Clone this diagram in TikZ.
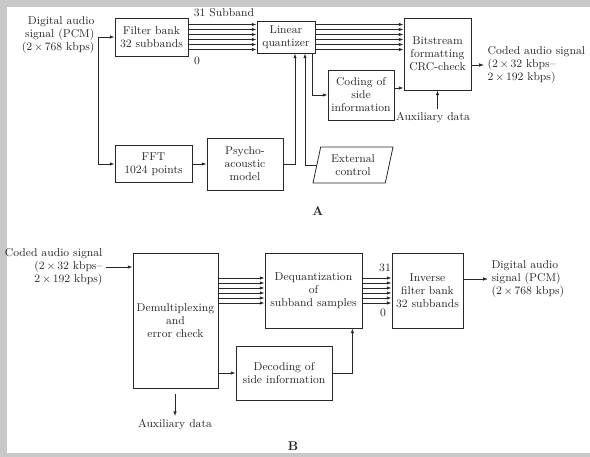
\documentclass[tikz,border=0pt]{standalone}
\usepackage{tikz}
\usetikzlibrary{arrows.meta,positioning,shapes.geometric,calc}
\definecolor{inkgray}{RGB}{40,40,40}
\definecolor{framegray}{RGB}{200,200,200}
\tikzset{
 codecbox/.style={
 rectangle,
 draw=inkgray,
 line width=0.6pt,
 align=center,
 inner sep=1pt,
 text=inkgray,
 font=\fontsize{8.5}{9.75}\selectfont
 },
 sigtext/.style={
 text=inkgray,
 inner sep=2.5pt,
 font=\fontsize{8.5}{9.75}\selectfont
 },
 panellabel/.style={
 text=inkgray,
 font=\fontsize{9.5}{11}\selectfont\bfseries
 },
 sigarrow/.style={-{Latex[length=3.6pt,width=2.6pt]}, line width=0.6pt, draw=inkgray}
}

\begin{document}
\begin{tikzpicture}[x=0.75pt, y=-0.75pt]
 \useasboundingbox (0,0) rectangle (590,457);
 \fill[framegray] (0,0) rectangle (590,7);
 \fill[framegray] (0,0) rectangle (7,457);
 \fill[framegray] (0,453) rectangle (590,457);

 \node[sigtext, align=right, anchor=east] (inA) at (98,35) {Digital audio\\signal (PCM)\\(2$\,\times\,$768 kbps)};
 \node[codecbox, minimum width=54.75pt, minimum height=28.5pt] (fbank) at (151.5,37) {Filter bank\\32 subbands};
 \node[codecbox, minimum width=43.5pt, minimum height=24pt] (quant) at (286,37) {Linear\\quantizer};
 \node[codecbox, minimum width=50.25pt, minimum height=54pt] (bitstr) at (437.5,54) {Bitstream\\formatting\\CRC-check};
 \node[codecbox, minimum width=49.5pt, minimum height=37.5pt] (coding) at (361,95) {Coding of\\side\\information};
 \node[codecbox, minimum width=57.75pt, minimum height=27.75pt] (fft) at (153.5,164) {FFT\\1024 points};
 \node[codecbox, minimum width=57pt, minimum height=39pt] (psycho) at (245,164) {Psycho-\\acoustic\\model};
 \node[codecbox, trapezium, trapezium left angle=72, trapezium right angle=108, trapezium stretches body, minimum width=60pt, minimum height=27pt] (extctl) at (353,165) {External\\control};
 \node[sigtext, align=left, anchor=west] (outA) at (484,65) {Coded audio signal\\(2$\,\times\,$32 kbps--\\2$\,\times\,$192 kbps)};
 \node[sigtext] (auxA) at (433,118) {Auxiliary data};
 \node[sigtext] (subtopA) at (224,13) {31 Subband};
 \node[sigtext] (subbotA) at (197,61) {0};
 \node[panellabel] (labA) at (318,211) {A};

 \draw[sigarrow] (inA.east |- fbank.west) -- (fbank.west);
 \coordinate (splitA) at ($(fbank.west)+(-16,0)$);
 \draw[sigarrow] (splitA) |- (fft.west);
 \foreach \d in {-12.5,-7.5,...,12.5} {
 \draw[sigarrow] ($(fbank.east)+(0,\d)$) -- ($(quant.west)+(0,\d)$);
 \path ($(quant.east)+(0,\d)$) coordinate (p);
 \draw[sigarrow] (p) -- (p -| bitstr.west);
 }
 \draw[sigarrow] ($(quant.south east)+(-3,0)$) |- (coding.west);
 \path ($(coding.east)+(0,-7)$) coordinate (c);
 \draw[sigarrow] (c) -- (c -| bitstr.west);
 \draw[sigarrow] (fft) -- (psycho);
 \draw[sigarrow] (psycho.east) -| ($(quant.south)+(9,0)$);
 \draw[sigarrow] (extctl.west) -| ($(quant.south)+(19,0)$);
 \draw[sigarrow] (outA.west -| bitstr.east) -- (outA.west);
 \draw[sigarrow] (auxA.north -| bitstr.south) -- (bitstr.south);

 \node[sigtext, align=right, anchor=east] (inB) at (106,267) {Coded audio signal\\(2$\,\times\,$32 kbps--\\2$\,\times\,$192 kbps)};
 \node[codecbox, minimum width=63.75pt, minimum height=101.25pt] (demux) at (175.5,320.5) {Demultiplexing\\and\\error check};
 \node[codecbox, minimum width=72.75pt, minimum height=56.25pt] (dequant) at (313.5,290.5) {Dequantization\\of\\subband samples};
 \node[codecbox, minimum width=53.25pt, minimum height=56.25pt] (invfb) at (427.5,290.5) {Inverse\\filter bank\\32 subbands};
 \node[codecbox, minimum width=72pt, minimum height=40.5pt] (decod) at (284,373) {Decoding of\\side information};
 \node[sigtext, align=left, anchor=west] (outB) at (488,279) {Digital audio\\signal (PCM)\\(2$\,\times\,$768 kbps)};
 \node[sigtext] (auxB) at (175,425) {Auxiliary data};
 \node[sigtext] (subtopB) at (385,268) {31};
 \node[sigtext] (subbotB) at (383,313) {0};
 \node[panellabel] (labB) at (293,446) {B};

 \draw[sigarrow] (inB.east) -- (inB.east -| demux.west);
 \foreach \d in {-12.5,-7.5,...,12.5} {
 \path ($(dequant.west)+(0,\d)$) coordinate (q);
 \draw[sigarrow] (q -| demux.east) -- (q);
 \draw[sigarrow] ($(dequant.east)+(0,\d)$) -- ($(invfb.west)+(0,\d)$);
 }
 \draw[sigarrow] (invfb.east |- outB.west) -- (outB.west);
 \draw[sigarrow] (decod.west -| demux.east) -- (decod.west);
 \draw[sigarrow] (decod.east) -| ($(dequant.south east)+(-10,0)$);
 \draw[sigarrow, shorten <=4pt] (demux.south -| auxB.north) -- (auxB.north);
\end{tikzpicture}
\end{document}
